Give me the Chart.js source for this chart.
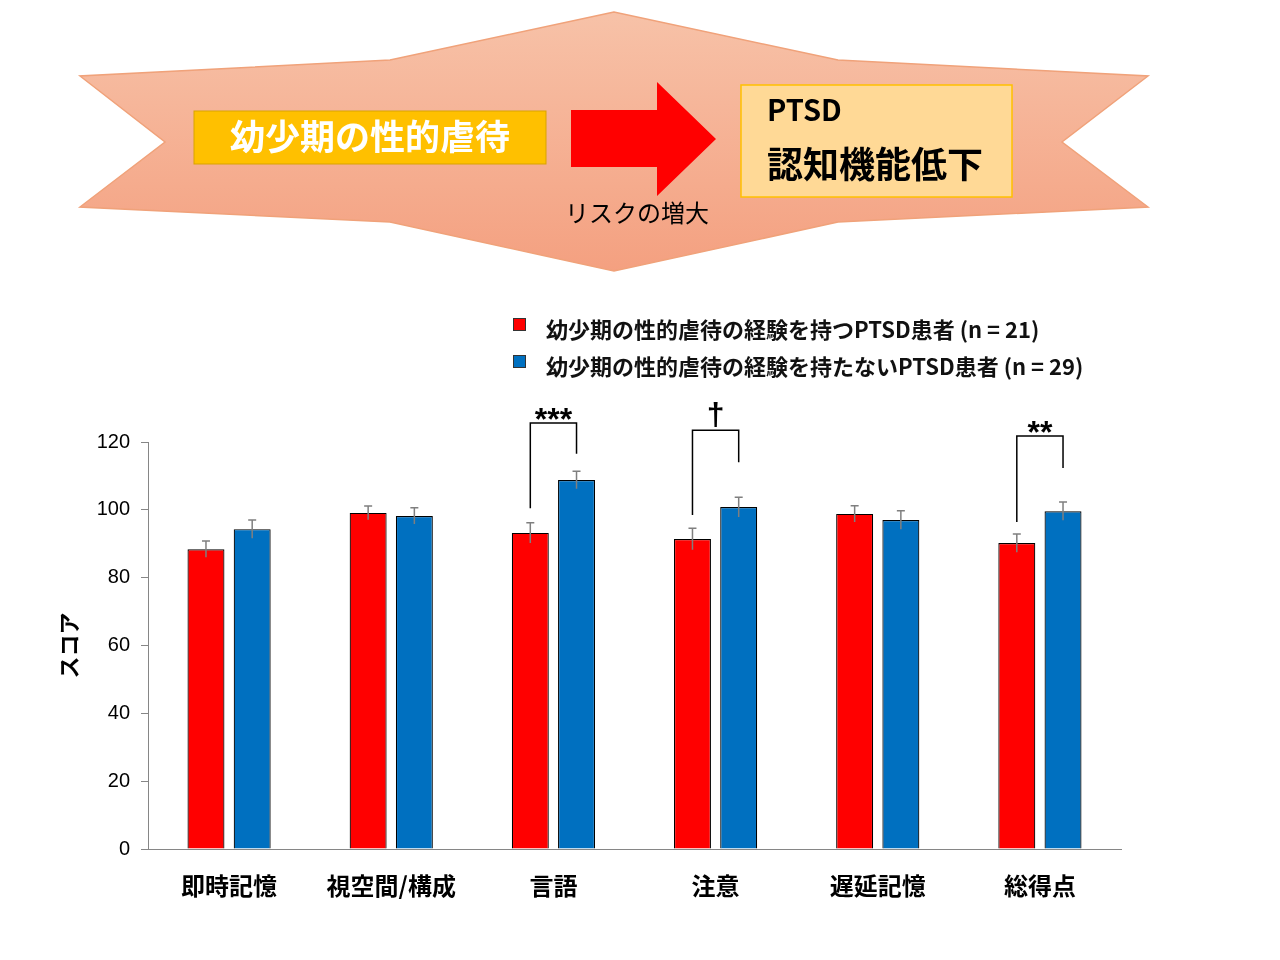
<!DOCTYPE html>
<html>
<head>
<meta charset="utf-8">
<script src="https://cdn.jsdelivr.net/npm/chart.js@4.4.1/dist/chart.umd.min.js"></script>
<style>
    body { margin: 0; background: #fff; font-family: "Noto Sans CJK JP", sans-serif; }
    #wrap { position: relative; width: 1280px; height: 960px; overflow: hidden; }
    #scoreChart { position: absolute; left: 0; top: 0; }
    #diagram { position: absolute; left: 0; top: 0; }
    #legend { position: absolute; left: 513px; top: 309px; list-style: none; margin: 0; padding: 0; }
    #legend li { display: flex; align-items: center; height: 37px; font-size: 22px; font-weight: bold; color: #111; }
    #legend .box { width: 11px; height: 11px; border: 1px solid #333; margin-right: 20px; margin-top: -6px; }
</style>
</head>
<body>
<div id="wrap">
    <canvas id="scoreChart" width="1280" height="960"></canvas>

    <svg id="diagram" width="1280" height="290" viewBox="0 0 1280 290">
        <defs>
            <linearGradient id="bgGrad" x1="0" y1="0" x2="0" y2="1">
                <stop offset="0" stop-color="#f7c2a8"/>
                <stop offset="1" stop-color="#f4a080"/>
            </linearGradient>
        </defs>
        <polygon points="614,12 390,60 80,76 165,142 80,207 390,222 614,271 838,222 1148,207 1062,142 1148,76 838,60"
                 fill="url(#bgGrad)" stroke="#f0a27a" stroke-width="1.5"/>
        <rect x="194" y="111" width="352" height="53" fill="#ffc000" stroke="#d9a300" stroke-width="1"/>
        <text x="370" y="150" text-anchor="middle" font-size="35" font-weight="bold" fill="#fff"
              font-family="Noto Sans CJK JP">幼少期の性的虐待</text>
        <polygon points="571,110 657,110 657,82 716,139 657,196 657,167 571,167" fill="#ff0000"/>
        <text x="637" y="222" text-anchor="middle" font-size="24" fill="#000"
              font-family="Noto Sans CJK JP">リスクの増大</text>
        <rect x="741" y="85" width="271" height="112" fill="#ffd996" stroke="#ffc000" stroke-width="1.5"/>
        <text x="767" y="121" font-size="29" font-weight="bold" fill="#000"
              font-family="Noto Sans CJK JP">PTSD</text>
        <text x="767" y="178" font-size="36" font-weight="bold" fill="#000"
              font-family="Noto Sans CJK JP">認知機能低下</text>
    </svg>

    <ul id="legend"></ul>
</div>

<script>
const categories = ['即時記憶', '視空間/構成', '言語', '注意', '遅延記憶', '総得点'];
const seriesNames = ['幼少期の性的虐待の経験を持つPTSD患者 (n = 21)', '幼少期の性的虐待の経験を持たないPTSD患者 (n = 29)'];
const abusedScores = [88.4, 99.1, 93.2, 91.4, 98.8, 90.2];
const abusedErrors = [2.4, 2.0, 3.0, 3.2, 2.4, 2.7];
const nonAbusedScores = [94.3, 98.2, 108.8, 100.8, 97.0, 99.6];
const nonAbusedErrors = [2.7, 2.4, 2.6, 2.9, 2.7, 2.7];
const yTicks = [0, 20, 40, 60, 80, 100, 120];

// significance brackets (values on the score axis)
const sigCategories = ['言語', '注意', '総得点'];
const sigMarks = ['***', '†', '**'];
const bracketLeftEnd = [100.5, 98.5, 96.4];
const bracketTop = [125.6, 123.5, 121.8];
const bracketRightEnd = [116.5, 114.0, 112.3];

const barColors = ['#ff0000', '#0070c0'];
const errorSets = [abusedErrors, nonAbusedErrors];

// legend built from the series names
const legendEl = document.getElementById('legend');
seriesNames.forEach((name, i) => {
    const li = document.createElement('li');
    li.innerHTML = `<span class="box" style="background:${barColors[i]}"></span><span>${name}</span>`;
    legendEl.appendChild(li);
});

// error bars drawn through the y scale
const errorBars = {
    id: 'errorBars',
    afterDatasetsDraw(chart) {
        const ctx = chart.ctx;
        const y = chart.scales.y;
        ctx.save();
        ctx.strokeStyle = '#7f7f7f';
        ctx.lineWidth = 1.5;
        chart.data.datasets.forEach((ds, di) => {
            const meta = chart.getDatasetMeta(di);
            meta.data.forEach((bar, i) => {
                const v = ds.data[i];
                const e = errorSets[di][i];
                const top = y.getPixelForValue(v + e);
                const bot = y.getPixelForValue(v - e);
                ctx.beginPath();
                ctx.moveTo(bar.x, top);
                ctx.lineTo(bar.x, bot);
                ctx.moveTo(bar.x - 4, top);
                ctx.lineTo(bar.x + 4, top);
                ctx.stroke();
            });
        });
        ctx.restore();
    }
};

// significance brackets
const sigBrackets = {
    id: 'sigBrackets',
    afterDraw(chart) {
        const ctx = chart.ctx;
        const y = chart.scales.y;
        const m0 = chart.getDatasetMeta(0);
        const m1 = chart.getDatasetMeta(1);
        ctx.save();
        ctx.strokeStyle = '#000';
        ctx.lineWidth = 1.5;
        ctx.fillStyle = '#000';
        ctx.textAlign = 'center';
        ctx.textBaseline = 'bottom';
        sigCategories.forEach((cat, k) => {
            const i = categories.indexOf(cat);
            const x1 = m0.data[i].x;
            const x2 = m1.data[i].x;
            const yt = y.getPixelForValue(bracketTop[k]);
            ctx.beginPath();
            ctx.moveTo(x1, y.getPixelForValue(bracketLeftEnd[k]));
            ctx.lineTo(x1, yt);
            ctx.lineTo(x2, yt);
            ctx.lineTo(x2, y.getPixelForValue(bracketRightEnd[k]));
            ctx.stroke();
            const dagger = sigMarks[k] === '†';
            ctx.font = 'bold 32px "Liberation Sans"';
            ctx.fillText(sigMarks[k], (x1 + x2) / 2, dagger ? yt + 2 : yt + 14);
        });
        ctx.restore();
    }
};

const ctx = document.getElementById('scoreChart').getContext('2d');
new Chart(ctx, {
    type: 'bar',
    data: {
        labels: categories,
        datasets: [
            {
                label: seriesNames[0],
                data: abusedScores,
                backgroundColor: barColors[0],
                borderColor: '#000',
                borderWidth: 1.2,
                barPercentage: 0.8,
                categoryPercentage: 0.57
            },
            {
                label: seriesNames[1],
                data: nonAbusedScores,
                backgroundColor: barColors[1],
                borderColor: '#000',
                borderWidth: 1.2,
                barPercentage: 0.8,
                categoryPercentage: 0.57
            }
        ]
    },
    options: {
        responsive: false,
        animation: false,
        devicePixelRatio: 1,
        layout: { padding: { left: 55, right: 159, top: 442, bottom: 50 } },
        plugins: {
            legend: { display: false },
            tooltip: { enabled: false }
        },
        scales: {
            x: {
                grid: { display: true, drawOnChartArea: false, drawTicks: false },
                border: { display: true, color: '#868686', width: 1 },
                ticks: {
                    color: '#000',
                    padding: 22,
                    font: { family: '"Noto Sans CJK JP"', size: 24, weight: 'bold' }
                },
                afterFit(scale) { scale.height = 61; }
            },
            y: {
                min: 0,
                max: 120,
                afterBuildTicks(scale) { scale.ticks = yTicks.map(v => ({ value: v })); },
                grid: { display: true, drawOnChartArea: false, drawTicks: true, tickLength: 7, color: '#868686' },
                border: { display: true, color: '#868686', width: 1 },
                ticks: {
                    color: '#000',
                    padding: 11,
                    font: { family: '"Liberation Sans"', size: 20 }
                },
                title: {
                    display: true,
                    text: 'スコア',
                    color: '#000',
                    padding: 0,
                    font: { family: '"Noto Sans CJK JP"', size: 22, weight: 'bold' }
                },
                afterFit(scale) { scale.width = 93; }
            }
        }
    },
    plugins: [errorBars, sigBrackets]
});
</script>
</body>
</html>
